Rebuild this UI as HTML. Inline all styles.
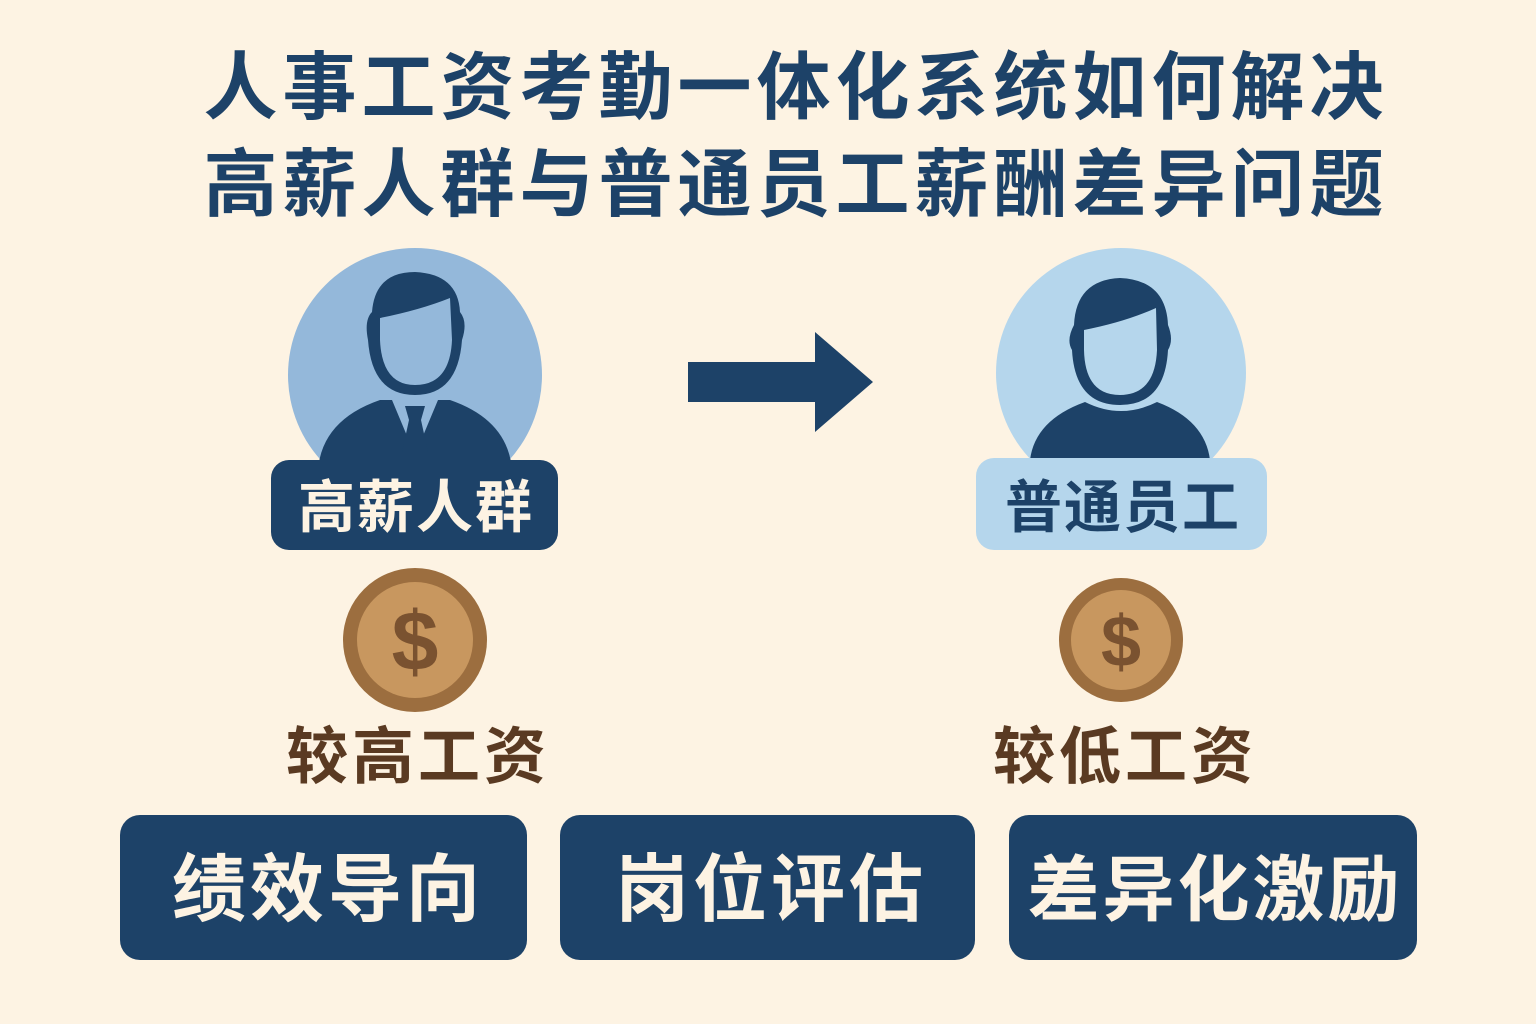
<!DOCTYPE html>
<html><head><meta charset="utf-8"><style>
html,body{margin:0;padding:0;background:#fdf3e3}
svg{display:block}
text{font-family:"Liberation Sans","Noto Sans CJK SC",sans-serif;font-weight:bold}
</style></head><body>
<svg width="1536" height="1024" viewBox="0 0 1536 1024" xmlns="http://www.w3.org/2000/svg">
<rect width="1536" height="1024" fill="#fdf3e3"/>
<text x="796" y="113" font-size="74" letter-spacing="5" fill="#1d4268" text-anchor="middle">人事工资考勤一体化系统如何解决</text>
<text x="796" y="210" font-size="74" letter-spacing="5" fill="#1d4268" text-anchor="middle">高薪人群与普通员工薪酬差异问题</text>

<!-- left person -->
<circle cx="415" cy="375" r="127" fill="#94b8da"/>
<path d="M318 470 Q322 420 380 400 L450 400 Q508 420 512 470 Z" fill="#1d4268"/>
<path d="M392 400 L415 455 L438 400 Z" fill="#94b8da"/>
<path d="M405 406 L425 406 L421 420 L428 452 L415 466 L402 452 L409 420 Z" fill="#1d4268"/>
<path d="M415 395 Q372 395 368 340 Q364 320 372 312 Q375 272 415 272 Q458 274 460 312 Q468 322 462 340 Q458 395 415 395 Z" fill="#1d4268"/>
<path d="M415 385 Q382 385 380 340 L380 318 Q420 310 450 298 L452 340 Q450 385 415 385 Z" fill="#94b8da"/>
<rect x="271" y="460" width="287" height="90" rx="18" fill="#1d4268"/>
<text x="416" y="527" font-size="57" letter-spacing="2" fill="#fdf3e3" text-anchor="middle">高薪人群</text>

<!-- arrow -->
<path d="M688 362 L815 362 L815 332 L873 382 L815 432 L815 402 L688 402 Z" fill="#1d4268"/>

<!-- right person -->
<circle cx="1121" cy="373" r="125" fill="#b5d6ec"/>
<path d="M1030 460 Q1035 420 1085 402 Q1121 420 1157 402 Q1205 420 1210 460 Z" fill="#1d4268"/>
<path d="M1120 405 Q1075 405 1072 350 Q1066 340 1074 325 Q1076 280 1120 278 Q1166 280 1168 325 Q1174 340 1168 350 Q1165 405 1120 405 Z" fill="#1d4268"/>
<path d="M1120 395 Q1085 395 1084 350 L1084 330 Q1125 322 1156 308 L1157 350 Q1155 395 1120 395 Z" fill="#b5d6ec"/>
<rect x="976" y="458" width="291" height="92" rx="18" fill="#b5d6ec"/>
<text x="1123" y="527" font-size="57" letter-spacing="2" fill="#1d4268" text-anchor="middle">普通员工</text>

<!-- coins -->
<circle cx="415" cy="640" r="72" fill="#9c6e3f"/>
<circle cx="415" cy="640" r="58" fill="#c8975f"/>
<text x="415" y="670" font-size="84" fill="#7a5230" text-anchor="middle">$</text>
<circle cx="1121" cy="640" r="62" fill="#9c6e3f"/>
<circle cx="1121" cy="640" r="50" fill="#c8975f"/>
<text x="1121" y="666" font-size="72" fill="#7a5230" text-anchor="middle">$</text>

<text x="418" y="778" font-size="62" letter-spacing="4" fill="#5a3a22" text-anchor="middle">较高工资</text>
<text x="1125" y="778" font-size="62" letter-spacing="4" fill="#5a3a22" text-anchor="middle">较低工资</text>

<!-- bottom boxes -->
<rect x="120" y="815" width="407" height="145" rx="20" fill="#1d4268"/>
<rect x="560" y="815" width="415" height="145" rx="20" fill="#1d4268"/>
<rect x="1009" y="815" width="408" height="145" rx="20" fill="#1d4268"/>
<text x="328" y="915" font-size="74" letter-spacing="4" fill="#fdf3e3" text-anchor="middle">绩效导向</text>
<text x="771" y="915" font-size="74" letter-spacing="4" fill="#fdf3e3" text-anchor="middle">岗位评估</text>
<text x="1215" y="915" font-size="72" letter-spacing="3" fill="#fdf3e3" text-anchor="middle">差异化激励</text>
</svg>
</body></html>
